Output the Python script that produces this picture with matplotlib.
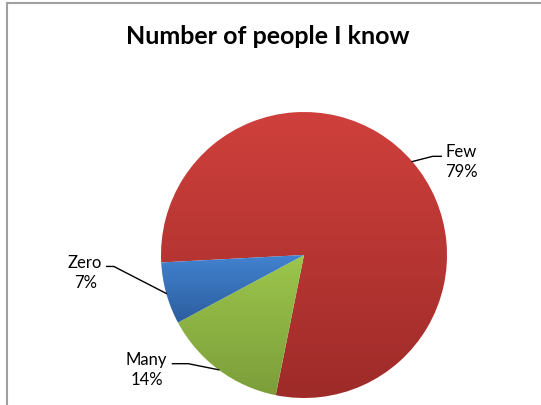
import matplotlib.pyplot as plt
import numpy as np
from matplotlib.colors import LinearSegmentedColormap
from matplotlib.patches import Rectangle

labels = ['Few', 'Many', 'Zero']
percents = [79, 14, 7]
# top / bottom shade of each slice (Excel-like vertical gradient)
top_colors = ['#CF403C', '#9CC64C', '#4282CF']
bottom_colors = ['#9E2B29', '#7C9E3A', '#2C5E9E']

# label placement in data units, plus the elbow of each leader line
label_pos = [(1.10, 0.66), (-1.10, -0.80), (-1.53, -0.12)]
elbow_pos = [((0.90, 0.69), (0.96, 0.69)),
             ((-0.81, -0.76), (-0.92, -0.76)),
             ((-1.33, -0.08), (-1.38, -0.08))]

fig = plt.figure(figsize=(5.41, 4.06), dpi=100)
fig.patches.append(Rectangle((7 / 541, -0.1), 1.2, 1 - 4 / 406 + 0.1,
                             transform=fig.transFigure, fill=False,
                             edgecolor='#A0A0A0', linewidth=1.5))

fig.text(268 / 541, 1 - 37 / 406, 'Number of people I know', ha='center', va='center',
         fontsize=18, fontweight='bold', family='Lato')

ax = fig.add_axes([161 / 541, 1 - 399 / 406, 286 / 541, 286 / 406])
wedges, _ = ax.pie(percents, startangle=183, counterclock=False, radius=1,
                   wedgeprops=dict(linewidth=0))
ax.set_aspect('equal')
ax.axis('off')

for w, c0, c1 in zip(wedges, top_colors, bottom_colors):
    w.set_facecolor('none')
    bb = w.get_path().get_extents(w.get_transform() + ax.transData.inverted())
    cmap = LinearSegmentedColormap.from_list('g', [c1, c0])
    grad = np.linspace(0, 1, 256).reshape(-1, 1)
    im = ax.imshow(grad, cmap=cmap, origin='lower', aspect='auto',
                   extent=[bb.x0, bb.x1, bb.y0, bb.y1], zorder=1)
    im.set_clip_path(w)
ax.set_xlim(-1, 1)
ax.set_ylim(-1, 1)

for w, name, p, (tx, ty), (e1, e2) in zip(wedges, labels, percents, label_pos, elbow_pos):
    mid = np.deg2rad((w.theta1 + w.theta2) / 2)
    rx, ry = np.cos(mid), np.sin(mid)
    ax.plot([rx, e1[0], e2[0]], [ry, e1[1], e2[1]], color='black', lw=1.0,
            clip_on=False, zorder=3)
    ax.text(tx, ty, f'{name}\n{p}%', ha='center', va='center', fontsize=12,
            family='Lato', linespacing=1.3, clip_on=False)

fig.savefig('out.png', dpi=100)
